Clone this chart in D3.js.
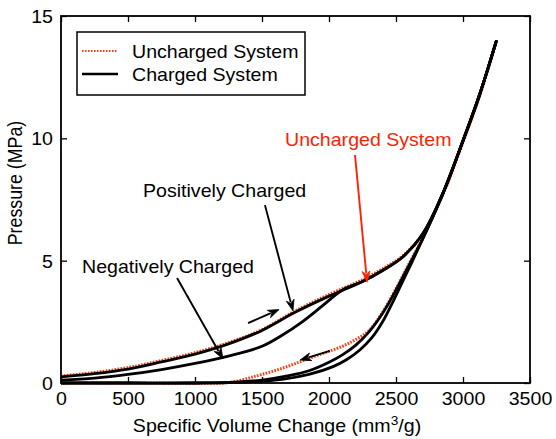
<!DOCTYPE html>
<html><head><meta charset="utf-8">
<script src="https://cdn.jsdelivr.net/npm/d3@7"></script>
<style>html,body{margin:0;padding:0;background:#fff}svg{display:block}</style>
</head><body>
<svg id="c" width="556" height="439"></svg>
<script>
// ---- data (mm^3/g, MPa) ----
const xTicks = [0,500,1000,1500,2000,2500,3000,3500];
const yTicks = [0,5,10,15];

// Positively charged loading (upper branch)
const posLoadX = [0,250,500,750,1000,1250,1500,1750,2000,2250,2400,2550,2700,2850,3000,3125,3250];
const posLoadP = [0.25,0.38,0.57,0.86,1.18,1.6,2.15,2.9,3.55,4.15,4.6,5.15,6.1,7.75,9.9,11.8,14.0];
// Negatively charged loading (lower branch)
const negLoadX = [0,250,500,750,1000,1250,1500,1650,1800,1950,2100,2250,2400,2550,2700,2850,3000,3125,3250];
const negLoadP = [0.12,0.2,0.35,0.55,0.8,1.1,1.5,1.95,2.5,3.15,3.8,4.15,4.6,5.15,6.1,7.75,9.9,11.8,14.0];
// Uncharged loading (red dotted)
const uncLoadX = [0,250,500,750,1000,1250,1500,1750,2000,2250,2400,2550,2700,2850,3000,3125,3250];
const uncLoadP = [0.29,0.43,0.63,0.92,1.24,1.65,2.18,2.95,3.62,4.22,4.67,5.2,6.1,7.7,9.85,11.75,14.0];
// Charged unloading, outer
const unlAX = [3250,3125,3000,2850,2700,2620,2550,2480,2400,2320,2230,2130,2030,1850,1650,1400,1000,500,0];
const unlAP = [14.0,11.8,9.9,7.75,5.9,4.95,4.15,3.35,2.5,1.85,1.35,0.95,0.67,0.35,0.15,0.05,0,0,0];
// Charged unloading, inner
const unlBX = [3250,3125,3000,2850,2700,2600,2500,2400,2300,2200,2100,2000,1850,1700,1500,1300,1000,500,0];
const unlBP = [14.0,11.8,9.9,7.75,5.9,4.85,3.8,2.85,2.1,1.55,1.15,0.85,0.5,0.3,0.12,0.03,0,0,0];
// Uncharged unloading (red dotted)
const uncUnlX = [3250,3125,3000,2850,2700,2600,2500,2400,2300,2200,2100,1950,1800,1650,1500,1400,1300,1200,600,0];
const uncUnlP = [14.0,11.8,9.9,7.75,5.95,4.9,3.85,2.9,2.15,1.78,1.5,1.2,0.9,0.6,0.35,0.2,0.06,0,0,0];

// annotations (data units)
const annotArrows = [
  {from:[1522,7.27], to:[1731,2.95], color:"#000"},
  {from:[866,4.29],  to:[1209,0.98], color:"#000"},
  {from:[2194,9.32], to:[2284,4.12], color:"#ff2200"},
  {from:[1396,2.45], to:[1627,3.0], color:"#000"},
  {from:[2007,1.31], to:[1784,0.94], color:"#000"}
];
const annotTexts = [
  {text:"Positively Charged", at:[612,7.6], color:"#000"},
  {text:"Negatively Charged", at:[157,4.5], color:"#000"},
  {text:"Uncharged System",   at:[1672,9.69], color:"#ff2200"}
];
const legendLabels = ["Uncharged System","Charged System"];

// ---- drawing ----
const svg = d3.select("#c");
const font = "'Liberation Sans', Arial, Helvetica, sans-serif";
const SX = 1.1;            // horizontal stretch of the original figure's text
const FS = 17.8;
const L=61, R=530, T=16, B=383;
const x = d3.scaleLinear().domain([0,3500]).range([L,R]);
const y = d3.scaleLinear().domain([0,15]).range([B,T]);

const lineAny = d3.line().x(d=>x(d[0])).y(d=>y(d[1])).curve(d3.curveCatmullRom.alpha(0.5));
const zip = (a,b)=>a.map((v,i)=>[v,b[i]]);

const red = "#ff3a10";
const plot = svg.append("g");
[[uncLoadX,uncLoadP],[uncUnlX,uncUnlP]].forEach(([a,b])=>{
  plot.append("path").attr("d", lineAny(zip(a,b))).attr("fill","none")
    .attr("stroke",red).attr("stroke-width",3).attr("stroke-dasharray","1.6,1.4");
});
[[posLoadX,posLoadP],[negLoadX,negLoadP],[unlAX,unlAP],[unlBX,unlBP]].forEach(([a,b])=>{
  plot.append("path").attr("d", lineAny(zip(a,b))).attr("fill","none")
    .attr("stroke","#000").attr("stroke-width",2.8).attr("stroke-linejoin","round");
});

// axes
const ax = svg.append("g").attr("font-family",font);
ax.append("rect").attr("x",L).attr("y",T).attr("width",R-L).attr("height",B-T)
  .attr("fill","none").attr("stroke","#000").attr("stroke-width",1.8);
const gx = ax.append("g").attr("transform",`translate(0,${B})`)
  .call(d3.axisBottom(x).tickValues(xTicks).tickSize(-6).tickPadding(9).tickFormat(d3.format("d")));
const gxt = ax.append("g").attr("transform",`translate(0,${T})`)
  .call(d3.axisTop(x).tickValues(xTicks).tickSize(-6).tickFormat(""));
const gy = ax.append("g").attr("transform",`translate(${L},0)`)
  .call(d3.axisLeft(y).tickValues(yTicks).tickSize(-6).tickPadding(0));
const gyr = ax.append("g").attr("transform",`translate(${R},0)`)
  .call(d3.axisRight(y).tickValues(yTicks).tickSize(-6).tickFormat(""));
[gx,gxt,gy,gyr].forEach(g=>{
  g.select(".domain").remove();
  g.selectAll(".tick line").attr("stroke","#000").attr("stroke-width",1.3);
  g.selectAll("text").attr("fill","#000").attr("font-size",FS).attr("font-family",font);
});
gx.selectAll("text").attr("dy","0.71em").attr("transform",`scale(${SX},1)`);
gy.selectAll("text").attr("dy","0.36em").attr("x",0).attr("transform",`translate(-8,0) scale(${SX},1)`);

ax.append("text").attr("transform",`translate(277,432) scale(${SX},1)`).attr("text-anchor","middle")
  .attr("font-size",FS).attr("fill","#000")
  .html('Specific Volume Change (mm<tspan dy="-7" font-size="12.5">3</tspan><tspan dy="7">/g)</tspan>');
ax.append("text").attr("transform",`translate(22,183) scale(${SX},1) rotate(-90)`)
  .attr("text-anchor","middle").attr("font-size",FS).attr("fill","#000").text("Pressure (MPa)");

// annotation arrows
function arrow(p1,p2,color,hl,hw){
  const x1=x(p1[0]),y1=y(p1[1]),x2=x(p2[0]),y2=y(p2[1]);
  const dx=x2-x1, dy=y2-y1, len=Math.hypot(dx,dy), ux=dx/len, uy=dy/len;
  const bx=x2-ux*hl, by=y2-uy*hl, nx=-uy, ny=ux;
  const g=svg.append("g");
  g.append("line").attr("x1",x1).attr("y1",y1).attr("x2",bx+ux*2).attr("y2",by+uy*2)
    .attr("stroke",color).attr("stroke-width",1.9);
  const nb = hl*0.3;
  g.append("path").attr("d",`M${x2},${y2}L${bx+nx*hw},${by+ny*hw}L${bx+ux*nb},${by+uy*nb}L${bx-nx*hw},${by-ny*hw}Z`)
    .attr("fill",color).attr("stroke",color).attr("stroke-width",0.8);
}
annotArrows.forEach(a=>arrow(a.from,a.to,a.color,11,4));
annotTexts.forEach(t=>{
  svg.append("text").attr("transform",`translate(${x(t.at[0])},${y(t.at[1])}) scale(${SX},1)`)
    .attr("font-family",font).attr("font-size",FS).attr("fill",t.color).text(t.text);
});

// legend
const lg = svg.append("g").attr("font-family",font);
lg.append("rect").attr("x",77).attr("y",32).attr("width",228).attr("height",63)
  .attr("fill","#fff").attr("stroke","#000").attr("stroke-width",1.5);
lg.append("line").attr("x1",82).attr("x2",118).attr("y1",51).attr("y2",51)
  .attr("stroke",red).attr("stroke-width",2).attr("stroke-dasharray","1.5,1.5");
lg.append("line").attr("x1",82).attr("x2",118).attr("y1",74).attr("y2",74)
  .attr("stroke","#000").attr("stroke-width",2.4);
legendLabels.forEach((t,i)=>{
  lg.append("text").attr("transform",`translate(132,${58+i*23}) scale(${SX},1)`)
    .attr("font-size",FS).attr("fill","#000").text(t);
});
</script>
</body></html>
